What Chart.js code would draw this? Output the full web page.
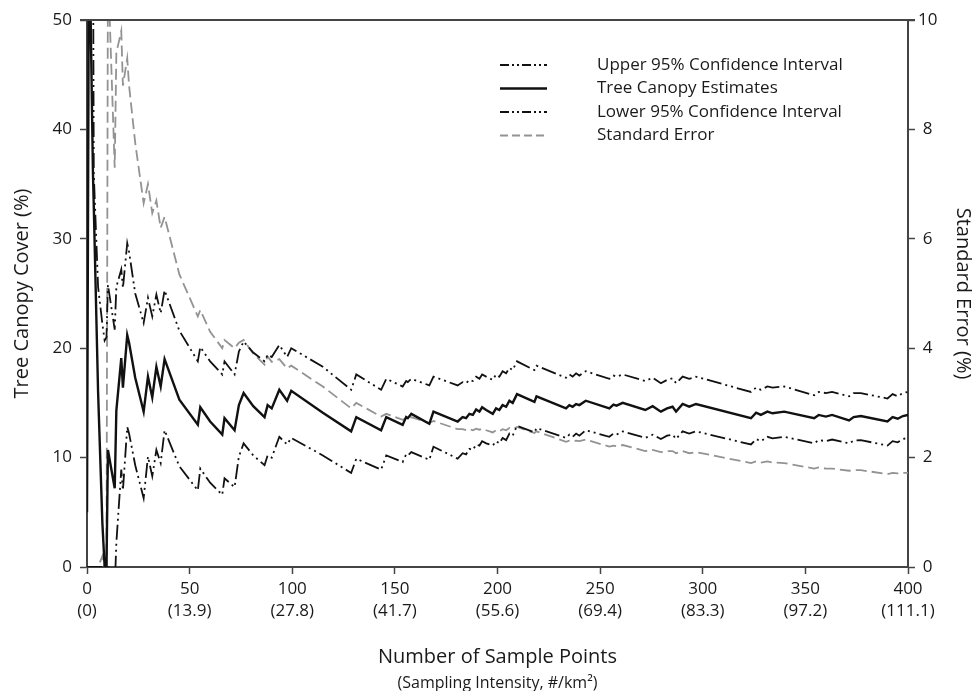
<!DOCTYPE html>
<html lang="en">
<head>
  <meta charset="UTF-8"/>
  <title>Tree Canopy Sampling</title>
  <script src="https://cdn.jsdelivr.net/npm/chart.js"></script>
  <style>
    body { margin: 0; background: #fff; }
    canvas { display: block; }
  </style>
</head>
<body>
  <canvas id="canopyChart" width="975" height="691"></canvas>

  <script>
    // number of sample points (shared x for every series)
    const samplePoints = [
      0, 1, 2.9, 3.3, 5.4, 7.5, 8.6, 9.5, 10.2, 13.5, 14.3, 16.7, 17.5, 19.6, 20.5,
      23.5, 27.6, 29.7, 31.8, 33.8, 35.9, 37.8, 45, 54, 55.2, 60, 65.9, 67, 71.9, 74, 76.3,
      81, 86.5, 88, 90, 93.7, 97.5, 99.5, 114.9, 128.7, 131.2, 143.3, 145.8, 153.8, 155.5,
      156.3, 158, 166.8, 168.8, 180.6, 183, 184.7, 186.3, 188, 189.6, 191.2, 192.5, 194.5,
      197.7, 199.3, 200.9, 202.5, 204.2, 205.8, 207.4, 209.5, 218, 219, 233.4, 235, 236.6,
      238.3, 239.9, 243, 254.5, 256.5, 258, 261, 272, 275.6, 279.6, 282.6, 285.3, 287,
      290.2, 293.4, 296.7, 323.5, 326, 328.3, 331.5, 334, 339.7, 354.3, 356.5, 360, 363,
      371.3, 373.5, 377, 390, 392.5, 395, 397.5, 400
    ];
    const canopyEstimate = [
      5, 60, 36, 33, 16, 4, 0, 0, 10.7, 7.2, 14.3, 19.1, 16.4, 21.2, 20.5,
      17.3, 14.2, 17.4, 15.5, 18.3, 16.5, 19.0, 15.3, 13.0, 14.6, 13.3, 12.1, 13.6, 12.5, 14.8, 15.9,
      14.7, 13.7, 14.8, 14.5, 16.2, 15.2, 16.1, 14.1, 12.4, 13.7, 12.5, 13.7, 13.0, 13.7,
      13.6, 14.0, 13.1, 14.2, 13.3, 13.7, 13.6, 14.0, 13.9, 14.4, 14.2, 14.6, 14.35,
      14.0, 14.5, 14.35, 14.8, 14.65, 15.2, 15.0, 15.8, 15.1, 15.6, 14.5, 14.8, 14.65,
      14.9, 14.8, 15.2, 14.5, 14.85, 14.75, 15.0, 14.35, 14.7, 14.2, 14.5, 14.65, 14.2,
      14.9, 14.65, 14.9, 13.6, 14.1, 13.9, 14.2, 14.05, 14.2, 13.6, 13.9, 13.75, 13.9,
      13.4, 13.7, 13.8, 13.3, 13.7, 13.55, 13.8, 13.9
    ];
    const upperCI = [
      100, 100, 60, 36, 25.6, 22.2, 20.7, 21, 25.8, 21.7, 25.6, 27.2, 25.5, 29.6, 28.8,
      25.0, 22.3, 24.6, 22.9, 24.9, 23.2, 25.3, 21.6, 18.8, 20.1, 18.8, 17.6, 18.8, 17.6, 19.7, 20.6,
      19.6, 18.8, 19.4, 19.2, 20.3, 19.2, 20.0, 18.3, 16.2, 17.6, 16.2, 17.2, 16.5, 17.0,
      16.9, 17.2, 16.6, 17.4, 16.6, 16.9, 16.8, 17.1, 17.0, 17.4, 17.2, 17.6, 17.4,
      17.1, 17.6, 17.4, 17.9, 17.7, 18.2, 18.0, 18.8, 18.0, 18.4, 17.3, 17.6, 17.4,
      17.7, 17.5, 17.9, 17.2, 17.5, 17.4, 17.6, 17.0, 17.3, 16.8, 17.1, 17.25, 16.8,
      17.4, 17.2, 17.4, 16.0, 16.4, 16.2, 16.5, 16.4, 16.5, 15.7, 16.0, 15.9, 16.0,
      15.6, 15.9, 15.9, 15.4, 15.8, 15.6, 15.9, 16.0
    ];
    const lowerCI = [
      0, 0, 0, 0, 0, 0, 0, 0, 0, -2, 2.2, 8.9, 7.0, 12.8, 12.2,
      9.3, 6.3, 10.1, 8.3, 10.7, 9.5, 12.5, 9.2, 7.0, 9.0, 7.7, 6.6, 8.1, 7.3, 10.1, 11.3,
      10.2, 9.3, 10.2, 10.0, 11.9, 11.2, 11.8, 10.2, 8.6, 9.9, 8.9, 10.2, 9.6, 10.3,
      10.2, 10.5, 9.8, 11.0, 9.9, 10.4, 10.3, 10.8, 10.7, 11.2, 11.1, 11.5, 11.3,
      11.1, 11.5, 11.3, 11.8, 11.6, 12.2, 12.0, 12.9, 12.3, 12.7, 11.8, 12.1, 11.9,
      12.2, 12.0, 12.5, 11.9, 12.2, 12.1, 12.4, 11.8, 12.1, 11.7, 12.0, 12.1, 11.7,
      12.4, 12.2, 12.4, 11.2, 11.7, 11.5, 11.9, 11.75, 11.9, 11.3, 11.6, 11.5, 11.65,
      11.3, 11.55, 11.6, 11.1, 11.5, 11.4, 11.7, 11.8
    ];
    // right axis (%)
    const standardError = [
      0, 0, 0, 0, 0, 0.2, 0, 0, 11, 7.3, 9.4, 9.8, 8.8, 9.3, 8.8,
      7.75, 6.65, 7.0, 6.47, 6.7, 6.2, 6.4, 5.35, 4.58, 4.7, 4.3, 4.0, 4.15, 4.0, 4.1, 4.15,
      3.9, 3.7, 3.85, 3.75, 3.8, 3.63, 3.68, 3.3, 2.9, 3.0, 2.75, 2.8, 2.69, 2.72,
      2.71, 2.74, 2.63, 2.67, 2.52, 2.52, 2.5, 2.52, 2.5, 2.53, 2.51, 2.53, 2.5,
      2.46, 2.5, 2.48, 2.52, 2.5, 2.54, 2.52, 2.56, 2.45, 2.48, 2.29, 2.31, 2.3,
      2.31, 2.3, 2.33, 2.2, 2.22, 2.21, 2.23, 2.12, 2.14, 2.1, 2.12, 2.12, 2.08,
      2.12, 2.08, 2.1, 1.9, 1.93, 1.91, 1.93, 1.91, 1.9, 1.8, 1.82, 1.8, 1.8,
      1.76, 1.77, 1.77, 1.7, 1.72, 1.71, 1.72, 1.72
    ];
    const intensityLabels = ['(0)', '(13.9)', '(27.8)', '(41.7)', '(55.6)', '(69.4)', '(83.3)', '(97.2)', '(111.1)'];

    const FONT = '"Open Sans", "DejaVu Sans", sans-serif';
    const AXIS = '#444';
    const INK = '#1a1a1a';
    const DASH_DOT_DOT = [15, 4, 2, 4, 2, 4];

    function toPoints(values) {
      return samplePoints.map((n, i) => ({ x: n, y: values[i] }));
    }

    // top frame line, x-axis titles and the legend inside the plot
    const decorPlugin = {
      id: 'decor',
      afterDraw(chart) {
        const { ctx, chartArea: a } = chart;
        ctx.save();
        ctx.strokeStyle = AXIS;
        ctx.lineWidth = 2;
        ctx.beginPath();
        ctx.moveTo(a.left - 7, a.top);
        ctx.lineTo(a.right + 7, a.top);
        ctx.stroke();

        const cx = (a.left + a.right) / 2;
        ctx.fillStyle = INK;
        ctx.textAlign = 'center';
        ctx.textBaseline = 'middle';
        ctx.font = '20px ' + FONT;
        ctx.fillText('Number of Sample Points', cx, a.bottom + 90);
        ctx.font = '16px ' + FONT;
        ctx.fillText('(Sampling Intensity, #/km²)', cx, a.bottom + 116);

        // legend
        const rowY = [65, 88.5, 112, 135.5];
        ctx.font = '17px ' + FONT;
        ctx.textAlign = 'left';
        chart.data.datasets.forEach((ds, i) => {
          const y = rowY[i];
          ctx.strokeStyle = ds.borderColor;
          ctx.lineWidth = ds.borderWidth;
          ctx.setLineDash(ds.legendDash || []);
          ctx.beginPath();
          ctx.moveTo(500, y);
          ctx.lineTo(547, y);
          ctx.stroke();
          ctx.setLineDash([]);
          ctx.fillStyle = INK;
          ctx.fillText(ds.label, 597, y);
        });
        ctx.restore();
      }
    };

    new Chart(document.getElementById('canopyChart'), {
      type: 'line',
      data: {
        datasets: [
          { label: 'Upper 95% Confidence Interval', data: toPoints(upperCI), borderColor: '#111', borderWidth: 1.8, borderDash: DASH_DOT_DOT, legendDash: [9, 3, 2, 3, 2, 3], yAxisID: 'y' },
          { label: 'Tree Canopy Estimates', data: toPoints(canopyEstimate), borderColor: '#111', borderWidth: 2.4, yAxisID: 'y' },
          { label: 'Lower 95% Confidence Interval', data: toPoints(lowerCI), borderColor: '#111', borderWidth: 1.8, borderDash: DASH_DOT_DOT, legendDash: [9, 3, 2, 3, 2, 3], yAxisID: 'y' },
          { label: 'Standard Error', data: toPoints(standardError), borderColor: '#939393', borderWidth: 1.8, borderDash: [11, 5], legendDash: [8, 4], yAxisID: 'y2' }
        ]
      },
      options: {
        responsive: false,
        animation: false,
        layout: { padding: { top: 20, left: 0, right: 0, bottom: 0 } },
        elements: { point: { radius: 0 }, line: { tension: 0, fill: false } },
        plugins: { legend: { display: false }, tooltip: { enabled: false } },
        scales: {
          x: {
            type: 'linear',
            min: 0,
            max: 400,
            afterFit: s => { s.height = 124; },
            border: { color: AXIS, width: 2 },
            grid: { drawOnChartArea: false, tickLength: 7, color: AXIS, tickWidth: 1.5 },
            ticks: {
              stepSize: 50,
              padding: 4,
              color: INK,
              maxRotation: 0,
              font: { family: FONT, size: 17, lineHeight: 1.3 },
              callback: (v, i) => [String(v), intensityLabels[i]]
            }
          },
          y: {
            position: 'left',
            min: 0,
            max: 50,
            afterFit: s => { s.width = 87; },
            border: { color: AXIS, width: 2 },
            grid: { drawOnChartArea: false, tickLength: 7, color: AXIS, tickWidth: 1.5 },
            ticks: { stepSize: 10, padding: 8, color: INK, font: { family: FONT, size: 17 } },
            title: { display: true, text: 'Tree Canopy Cover (%)', color: INK, padding: { top: 10, bottom: 0 }, font: { family: FONT, size: 20 } }
          },
          y2: {
            position: 'right',
            min: 0,
            max: 10,
            afterFit: s => { s.width = 67; },
            border: { color: AXIS, width: 2 },
            grid: { drawOnChartArea: false, tickLength: 7, color: AXIS, tickWidth: 1.5 },
            ticks: { stepSize: 2, padding: 3, crossAlign: 'center', color: INK, font: { family: FONT, size: 17 } },
            title: { display: true, text: 'Standard Error (%)', color: INK, padding: { top: 0, bottom: 0 }, font: { family: FONT, size: 20 } }
          }
        }
      },
      plugins: [decorPlugin]
    });
  </script>
</body>
</html>
